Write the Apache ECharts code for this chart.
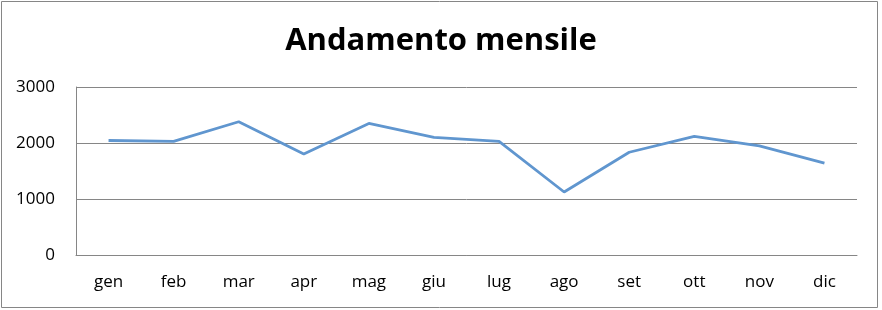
<!DOCTYPE html>
<html><head><meta charset="utf-8">
<script src="https://cdn.jsdelivr.net/npm/echarts@6/dist/echarts.min.js"></script>
<style>html,body{margin:0;padding:0;background:#fff}#c{width:882px;height:310px}</style>
</head><body><div id="c"></div>
<script>
const categories = ['gen','feb','mar','apr','mag','giu','lug','ago','set','ott','nov','dic'];
const values = [2045, 2030, 2380, 1805, 2350, 2100, 2030, 1125, 1835, 2120, 1950, 1640];
const titleText = 'Andamento mensile';
const chart = echarts.init(document.getElementById('c'), null, {renderer:'canvas'});
chart.setOption({
  animation:false,
  title:{text:titleText,left:'center',top:21,textStyle:{fontFamily:'Open Sans',fontWeight:'bold',fontSize:31,color:'#000'}},
  graphic:[{type:'rect',shape:{x:1.5,y:1.5,width:876,height:306},style:{fill:'none',stroke:'#868686',lineWidth:1}}],
  grid:{left:76,right:25,top:87,bottom:55},
  xAxis:{type:'category',data:categories,boundaryGap:true,
    axisLine:{lineStyle:{color:'#868686',width:1}},axisTick:{show:false},
    axisLabel:{fontFamily:'Open Sans',fontSize:17,color:'#000',margin:19}},
  yAxis:{type:'value',min:0,max:3000,interval:1000,
    axisLine:{show:true,lineStyle:{color:'#868686',width:1}},axisTick:{show:false},
    splitLine:{lineStyle:{color:'#868686',width:1}},
    axisLabel:{fontFamily:'Open Sans',fontSize:17,color:'#000',margin:21,formatter:v=>String(v)}},
  series:[{type:'line',data:values,symbol:'none',lineStyle:{color:'#6096cf',width:2.8}}]
});
</script></body></html>
